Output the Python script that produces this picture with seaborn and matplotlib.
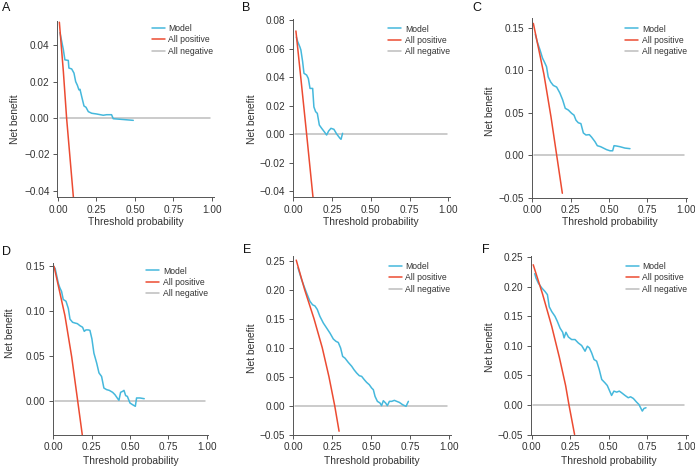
import numpy as np
import pandas as pd
import matplotlib
matplotlib.use("Agg")
import matplotlib.pyplot as plt
import seaborn as sns

sns.set_theme(style="ticks")
plt.rcParams['font.family'] = ['Liberation Sans', 'DejaVu Sans']

# ---------------- data ----------------
panel_labels = ["A", "B", "C", "D", "E", "F"]
curve_names = ["Model", "All positive", "All negative"]

A_model_x = [0.013, 0.035, 0.045, 0.067, 0.071, 0.089, 0.104, 0.115, 0.126, 0.136, 0.143, 0.154, 0.169, 0.182, 0.197, 0.219, 0.251, 0.294, 0.316, 0.348, 0.359, 0.403, 0.489]
A_model_y = [0.047, 0.0376, 0.032, 0.0317, 0.0275, 0.027, 0.0247, 0.020, 0.018, 0.0155, 0.0158, 0.0118, 0.0066, 0.0059, 0.0035, 0.0026, 0.0022, 0.0015, 0.0018, 0.0018, -0.0004, -0.0007, -0.0013]
A_pos_x = [0.009, 0.035, 0.056, 0.100]
A_pos_y = [0.0527, 0.0256, 0.0, -0.0435]

B_model_x = [0.02, 0.028, 0.043, 0.049, 0.06, 0.069, 0.086, 0.097, 0.108, 0.125, 0.133, 0.144, 0.155, 0.168, 0.183, 0.2, 0.215, 0.228, 0.243, 0.262, 0.28, 0.301, 0.308, 0.318]
B_model_y = [0.068, 0.065, 0.061, 0.059, 0.051, 0.0426, 0.0414, 0.039, 0.032, 0.032, 0.019, 0.0157, 0.0145, 0.0063, 0.004, 0.0016, -0.0007, 0.0021, 0.004, 0.0033, 0.0, -0.003, -0.0037, 0.0005]
B_pos_x = [0.017, 0.05, 0.086, 0.127]
B_pos_y = [0.0723, 0.038, 0.0, -0.0442]

C_model_x = [0.02, 0.033, 0.05, 0.067, 0.078, 0.093, 0.104, 0.12, 0.137, 0.159, 0.18, 0.198, 0.215, 0.235, 0.257, 0.272, 0.285, 0.3, 0.317, 0.333, 0.35, 0.372, 0.387, 0.409, 0.424, 0.446, 0.467, 0.485, 0.507, 0.524, 0.533, 0.55, 0.572, 0.604, 0.637]
C_model_y = [0.142, 0.133, 0.124, 0.114, 0.11, 0.104, 0.092, 0.086, 0.082, 0.08, 0.073, 0.065, 0.055, 0.053, 0.049, 0.047, 0.041, 0.038, 0.037, 0.026, 0.0236, 0.024, 0.021, 0.0157, 0.011, 0.0098, 0.0079, 0.0063, 0.005, 0.005, 0.011, 0.0106, 0.0098, 0.0082, 0.0075]
C_pos_x = [0.007, 0.076, 0.122, 0.159, 0.196]
C_pos_y = [0.155, 0.095, 0.045, 0.0, -0.045]

D_model_x = [0.012, 0.033, 0.043, 0.054, 0.065, 0.083, 0.098, 0.109, 0.126, 0.141, 0.157, 0.174, 0.191, 0.202, 0.213, 0.228, 0.239, 0.252, 0.265, 0.283, 0.298, 0.315, 0.33, 0.348, 0.365, 0.387, 0.402, 0.417, 0.428, 0.439, 0.452, 0.461, 0.472, 0.483, 0.5, 0.517, 0.535, 0.543, 0.565, 0.593]
D_model_y = [0.148, 0.131, 0.126, 0.122, 0.113, 0.111, 0.103, 0.091, 0.0875, 0.0867, 0.086, 0.0837, 0.082, 0.0774, 0.079, 0.079, 0.0785, 0.0689, 0.053, 0.042, 0.031, 0.027, 0.0141, 0.0123, 0.0115, 0.0093, 0.0067, 0.003, 0.0004, 0.0093, 0.0104, 0.0115, 0.0056, 0.0048, -0.0026, -0.0045, -0.0063, 0.003, 0.003, 0.0022]
D_pos_x = [0.005, 0.076, 0.12, 0.159, 0.189]
D_pos_y = [0.15, 0.095, 0.049, 0.0, -0.038]

E_model_x = [0.03, 0.039, 0.054, 0.069, 0.086, 0.107, 0.124, 0.139, 0.154, 0.171, 0.193, 0.214, 0.236, 0.257, 0.274, 0.289, 0.304, 0.317, 0.332, 0.353, 0.375, 0.39, 0.407, 0.424, 0.439, 0.456, 0.471, 0.488, 0.503, 0.514, 0.525, 0.54, 0.557, 0.567, 0.578, 0.593, 0.604, 0.617, 0.632, 0.649, 0.664, 0.681, 0.702, 0.724, 0.739]
E_model_y = [0.238, 0.23, 0.217, 0.206, 0.194, 0.18, 0.174, 0.172, 0.166, 0.154, 0.1425, 0.134, 0.125, 0.115, 0.111, 0.109, 0.0994, 0.085, 0.082, 0.0747, 0.068, 0.062, 0.0563, 0.0517, 0.0506, 0.0448, 0.0402, 0.0362, 0.0305, 0.0276, 0.016, 0.0075, 0.0046, 0.0, 0.0086, 0.0046, 0.0, 0.0075, 0.0075, 0.0092, 0.0075, 0.0057, 0.0017, -0.0011, 0.0075]
E_pos_x = [0.019, 0.073, 0.133, 0.186, 0.229, 0.266, 0.294]
E_pos_y = [0.251, 0.20, 0.15, 0.10, 0.05, 0.0, -0.044]

F_model_x = [0.02, 0.028, 0.043, 0.065, 0.086, 0.102, 0.114, 0.13, 0.151, 0.166, 0.184, 0.201, 0.21, 0.222, 0.238, 0.259, 0.281, 0.302, 0.324, 0.346, 0.361, 0.374, 0.389, 0.404, 0.421, 0.438, 0.454, 0.475, 0.49, 0.503, 0.518, 0.533, 0.551, 0.568, 0.583, 0.605, 0.626, 0.641, 0.659, 0.68, 0.695, 0.706, 0.717, 0.728, 0.741]
F_model_y = [0.222, 0.2146, 0.206, 0.198, 0.192, 0.1865, 0.166, 0.158, 0.15, 0.1416, 0.130, 0.123, 0.1135, 0.123, 0.115, 0.1107, 0.1107, 0.105, 0.1006, 0.091, 0.0994, 0.0966, 0.088, 0.077, 0.0742, 0.060, 0.0433, 0.0376, 0.0331, 0.0253, 0.0163, 0.0236, 0.0219, 0.0236, 0.0208, 0.0163, 0.0124, 0.014, 0.0112, 0.005, 0.0011, -0.0045, -0.0101, -0.0056, -0.0045]
F_pos_x = [0.01, 0.07, 0.13, 0.18, 0.22, 0.242, 0.278]
F_pos_y = [0.237, 0.188, 0.133, 0.08, 0.033, 0.0, -0.0496]

neg_x = [0.01, 0.99]
neg_y = [0.0, 0.0]

x_ticks = [0.0, 0.25, 0.5, 0.75, 1.0]
y_ticks = {
    "A": [-0.04, -0.02, 0.0, 0.02, 0.04],
    "B": [-0.04, -0.02, 0.0, 0.02, 0.04, 0.06, 0.08],
    "C": [-0.05, 0.0, 0.05, 0.10, 0.15],
    "D": [0.0, 0.05, 0.10, 0.15],
    "E": [-0.05, 0.0, 0.05, 0.10, 0.15, 0.20, 0.25],
    "F": [-0.05, 0.0, 0.05, 0.10, 0.15, 0.20, 0.25],
}

model_data = {
    "A": (A_model_x, A_model_y, A_pos_x, A_pos_y),
    "B": (B_model_x, B_model_y, B_pos_x, B_pos_y),
    "C": (C_model_x, C_model_y, C_pos_x, C_pos_y),
    "D": (D_model_x, D_model_y, D_pos_x, D_pos_y),
    "E": (E_model_x, E_model_y, E_pos_x, E_pos_y),
    "F": (F_model_x, F_model_y, F_pos_x, F_pos_y),
}

# ---------------- layout (pixels) ----------------
W, H = 695, 466
rects = {  # left, right, top, bottom (px)
    "A": (57.2, 213.5, 20.8, 197.0),
    "B": (292.5, 449.9, 18.6, 197.0),
    "C": (531.5, 687.2, 18.3, 197.5),
    "D": (52.5, 208.2, 263.0, 434.7),
    "E": (292.5, 450.6, 256.3, 434.7),
    "F": (530.9, 687.5, 255.7, 434.7),
}
ylims = {
    "A": (-0.0435, 0.0535),
    "B": (-0.0442, 0.081),
    "C": (-0.05, 0.161),
    "D": (-0.038, 0.1537),
    "E": (-0.05, 0.2576),
    "F": (-0.0496, 0.2523),
}
letter_pos = {"A": (2, 11), "B": (242, 11), "C": (472, 11),
              "D": (2, 255), "E": (243, 253), "F": (482, 253)}
ylabel_pos = {"A": (15.5, 119), "B": (252, 119), "C": (490, 111),
              "D": (10.5, 333), "E": (252, 348), "F": (490, 347)}
xlabel_y = {"A": 222, "B": 222, "C": 222, "D": 460.7, "E": 460.7, "F": 460.7}
legend_top = {"A": 24, "B": 24.5, "C": 24.5, "D": 266.5, "E": 262, "F": 262}

palette = {"Model": "#45B8DC", "All positive": "#EC4B32", "All negative": "#BDBDBD"}
text_col = "#333333"
spine_col = "#555555"

fig = plt.figure(figsize=(W / 100, H / 100), dpi=100)

for p in panel_labels:
    l, r, t, b = rects[p]
    ax = fig.add_axes([l / W, 1 - b / H, (r - l) / W, (b - t) / H])
    mx, my, px, py = model_data[p]
    df = pd.concat([
        pd.DataFrame({"threshold": mx, "net_benefit": my, "curve": "Model"}),
        pd.DataFrame({"threshold": px, "net_benefit": py, "curve": "All positive"}),
        pd.DataFrame({"threshold": neg_x, "net_benefit": neg_y, "curve": "All negative"}),
    ], ignore_index=True)
    sns.lineplot(data=df, x="threshold", y="net_benefit", hue="curve",
                 hue_order=curve_names, palette=palette, estimator=None,
                 sort=False, linewidth=1.1, ax=ax)
    for line in ax.get_lines():
        if line.get_color() == palette["All negative"]:
            line.set_zorder(1)
    ax.set_xlim(-0.005, 1.01)
    ax.set_ylim(*ylims[p])
    ax.set_xticks(x_ticks)
    ax.set_xticklabels([f"{v:.2f}" for v in x_ticks])
    ax.set_yticks(y_ticks[p])
    ax.set_yticklabels([f"{v:.2f}".replace("-", "\u2212") for v in y_ticks[p]])
    ax.tick_params(axis="both", labelsize=7.2, colors=spine_col, labelcolor=text_col,
                   length=3, width=0.7, pad=2.5)
    for s in ["top", "right"]:
        ax.spines[s].set_visible(False)
    for s in ["left", "bottom"]:
        ax.spines[s].set_color(spine_col)
        ax.spines[s].set_linewidth(0.7)
    ax.set_xlabel("Threshold probability", fontsize=7.4, color=text_col)
    ax.set_ylabel("Net benefit", fontsize=7.4, color=text_col)
    ax.xaxis.set_label_coords(0.5, (b - xlabel_y[p]) / (b - t))
    yx, yy = ylabel_pos[p]
    ax.yaxis.set_label_coords((yx - l) / (r - l), (b - yy) / (b - t))
    ax.xaxis.label.set_va("center")
    ax.yaxis.label.set_va("center")

    leg = ax.legend(loc="upper right",
                    bbox_to_anchor=(1.0, (b - legend_top[p]) / (b - t)),
                    frameon=False, fontsize=6.2, handlelength=1.5,
                    handletextpad=0.45, labelspacing=0.28, borderaxespad=0,
                    borderpad=0)
    for txt in leg.get_texts():
        txt.set_color(text_col)
    for h in leg.legend_handles:
        h.set_linewidth(1.1)

    lx, ly = letter_pos[p]
    fig.text(lx / W, 1 - ly / H, p, fontsize=9, ha="left", va="baseline",
             color="#111111")

fig.savefig("out.png", dpi=100)
